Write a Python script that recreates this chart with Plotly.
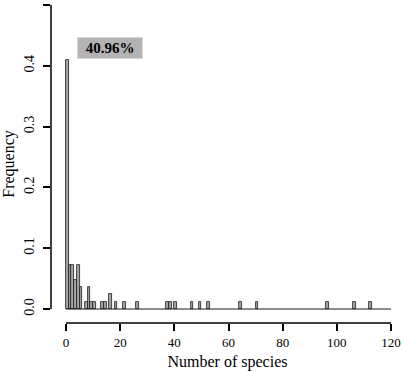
import plotly.graph_objects as go

# Histogram data: bin left edges (width 1) with non-zero counts
bin_starts = [0, 1, 2, 3, 4, 5, 7, 8, 9, 10, 13, 14, 16, 18, 21, 26, 37, 38, 40,
              46, 49, 52, 64, 70, 96, 106, 112]
counts = [34, 6, 6, 4, 6, 3, 1, 3, 1, 1, 1, 1, 2, 1, 1, 1, 1, 1, 1,
          1, 1, 1, 1, 1, 1, 1, 1]
breaks_min, breaks_max = 0, 120
x_ticks = [0, 20, 40, 60, 80, 100, 120]
y_ticks = [0.0, 0.1, 0.2, 0.3, 0.4, 0.5]
y_tick_labels = ["0.0", "0.1", "0.2", "0.3", "0.4", "0.5"]
label_text = "40.96%"

total = sum(counts)
freqs = [c / total for c in counts]
centers = [b + 0.5 for b in bin_starts]

FONT = "Liberation Serif, Times New Roman, serif"

fig = go.Figure()
fig.add_trace(go.Bar(
    x=centers, y=freqs, width=[1] * len(centers),
    marker=dict(color="#a6a6a6", line=dict(color="#1a1a1a", width=0.8)),
    showlegend=False, hoverinfo="skip",
))

# baseline of zero-height bins (as R's hist draws)
fig.add_shape(type="line", xref="x", yref="y", x0=breaks_min, x1=breaks_max,
              y0=0, y1=0, line=dict(color="#1a1a1a", width=1))
# R-style axis lines
fig.add_shape(type="line", xref="x", yref="paper", x0=x_ticks[0], x1=x_ticks[-1],
              y0=0, y1=0, line=dict(color="black", width=1.5))
fig.add_shape(type="line", xref="paper", yref="y", x0=0, x1=0,
              y0=y_ticks[0], y1=y_ticks[-1], line=dict(color="black", width=1.5))

fig.add_annotation(x=16.1, y=0.429, xref="x", yref="y", text="<b>" + label_text + "</b>",
                   showarrow=False, bgcolor="#b3b3b3",
                   font=dict(family=FONT, size=15, color="black"),
                   borderpad=2, width=60, height=16)

fig.update_layout(
    width=404, height=372,
    margin=dict(l=51, r=0, t=5, b=49, autoexpand=False),
    paper_bgcolor="white", plot_bgcolor="white",
    bargap=0,
    font=dict(family=FONT, size=13, color="black"),
    xaxis=dict(range=[-5.54, 124.8], showgrid=False, zeroline=False, showline=False,
               automargin=False,
               tickmode="array", tickvals=x_ticks, ticktext=[str(v) for v in x_ticks],
               ticks="outside", ticklen=7, tickwidth=1.5, tickcolor="black",
               tickfont=dict(family=FONT, size=13, color="black"),
               title=dict(text="Number of species", font=dict(family=FONT, size=16, color="black"),
                          standoff=7)),
    yaxis=dict(range=[-0.023, 0.5], showgrid=False, zeroline=False, showline=False,
               automargin=False,
               tickmode="array", tickvals=y_ticks, ticktext=y_tick_labels,
               ticks="outside", ticklen=7, tickwidth=1.5, tickcolor="black",
               ticklabelstandoff=3,
               tickangle=-90, tickfont=dict(family=FONT, size=14, color="black"),
               title=dict(text="Frequency", font=dict(family=FONT, size=16, color="black"),
                          standoff=6)),
)

fig.write_html("out.html", config={"displayModeBar": False},
               post_script="document.body.style.margin='0';document.body.style.padding='0';")
